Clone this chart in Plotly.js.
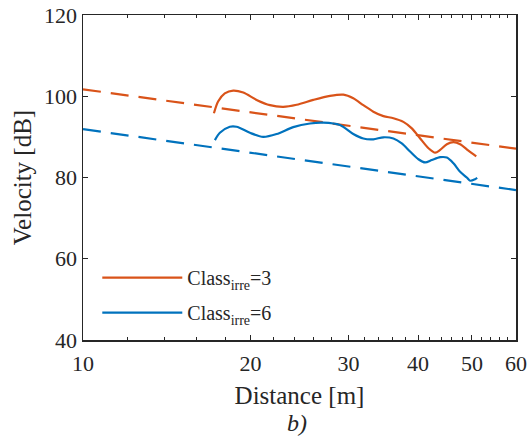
<!DOCTYPE html>
<html>
<head>
<meta charset="utf-8">
<script src="https://cdn.plot.ly/plotly-3.0.1.min.js"></script>
<style>html,body{margin:0;padding:0;background:#fff;}#chart{width:529px;height:437px;}</style>
</head>
<body>
<div id="chart"></div>
<script>
// Class_irre = 3 (measured curve)
const distC3 = [17.19, 17.49, 17.98, 18.62, 19.41, 20.51, 21.68, 22.9, 24.21, 25.93, 27.79, 29.37, 30.6, 31.9, 33.25, 34.66, 36.13, 37.65, 38.99, 40.36, 41.77, 42.95, 43.84, 45.07, 46.32, 47.62, 49.28, 50.9];
const velC3 = [95.8, 98.7, 100.7, 101.4, 100.9, 99.1, 97.8, 97.4, 97.9, 99.1, 100.1, 100.4, 99.5, 97.8, 96.2, 95.1, 94.6, 93.7, 92.1, 89.6, 87.2, 86.1, 86.8, 88.2, 88.7, 88.2, 86.6, 85.2];
// Class_irre = 6 (measured curve)
const distC6 = [17.26, 17.62, 18.36, 18.88, 19.95, 21.08, 22.28, 23.87, 25.58, 27.03, 28.96, 30.6, 31.9, 33.25, 34.66, 36.13, 37.4, 38.71, 40.07, 41.2, 42.35, 43.84, 45.07, 46.32, 47.62, 48.95, 49.63, 50.68, 51.1];
const velC6 = [89.2, 91.0, 92.5, 92.5, 91.0, 90.0, 90.7, 92.4, 93.3, 93.5, 92.9, 90.7, 89.6, 89.4, 89.9, 89.6, 88.4, 86.4, 84.5, 83.7, 84.3, 85.0, 84.9, 83.5, 81.4, 80.0, 79.2, 79.6, 79.9];
// Trend lines (dashed)
const distTrend = [10, 60];
const trendC3 = [101.7, 87.1];
const trendC6 = [91.9, 76.9];
// Axis ticks
const xTicks = [10, 20, 30, 40, 50, 60];
const xMinor = [12, 14, 16, 18, 22, 24, 26, 28, 32, 34, 36, 38, 42, 44, 46, 48, 52, 54, 56, 58];
const yTicks = [40, 60, 80, 100, 120];
const legendNames = ['Class<sub>irre</sub>=3', 'Class<sub>irre</sub>=6'];

const orange = '#D95319';
const blue = '#0072BD';
const axCol = '#262626';
const fontFam = 'Liberation Serif, Times New Roman, serif';

const traces = [
  {x: distTrend, y: trendC3, mode: 'lines', line: {color: orange, width: 2.2, dash: '18px,10px'}, showlegend: false, hoverinfo: 'skip'},
  {x: distTrend, y: trendC6, mode: 'lines', line: {color: blue, width: 2.2, dash: '18px,10px'}, showlegend: false, hoverinfo: 'skip'},
  {x: distC3, y: velC3, mode: 'lines', name: legendNames[0], legendgroup: 'a', line: {color: orange, width: 2.2, shape: 'spline', smoothing: 0.8}},
  {x: distC6, y: velC6, mode: 'lines', name: legendNames[1], legendgroup: 'b', line: {color: blue, width: 2.2, shape: 'spline', smoothing: 0.8}}
];

const layout = {
  width: 529, height: 437,
  margin: {l: 83, r: 13, t: 15, b: 97},
  paper_bgcolor: '#fff', plot_bgcolor: '#fff',
  font: {family: fontFam, color: axCol},
  showlegend: true,
  legend: {x: 0.033, y: 0.252, xanchor: 'left', yanchor: 'top', bgcolor: 'rgba(0,0,0,0)', borderwidth: 0,
           font: {family: fontFam, size: 20, color: axCol}, itemwidth: 80, tracegroupgap: 6},
  xaxis: {
    type: 'log', range: [1, Math.log10(60)],
    tickmode: 'array', tickvals: xTicks, ticktext: xTicks.map(String),
    ticks: 'inside', ticklen: 5, tickwidth: 1, tickcolor: axCol,
    minor: {tickmode: 'array', tickvals: xMinor, ticks: 'inside', ticklen: 3, tickwidth: 1, tickcolor: axCol, showgrid: false},
    showline: true, linecolor: axCol, linewidth: 1.5, mirror: 'ticks',
    showgrid: false, zeroline: false, ticklabelstandoff: 3,
    tickfont: {family: fontFam, size: 22, color: axCol},
    title: {text: 'Distance [m]', font: {family: fontFam, size: 25, color: axCol}, standoff: 11}
  },
  yaxis: {
    range: [40, 120],
    tickmode: 'array', tickvals: yTicks, ticktext: yTicks.map(String),
    ticks: 'inside', ticklen: 5, tickwidth: 1, tickcolor: axCol,
    showline: true, linecolor: axCol, linewidth: 1.5, mirror: 'ticks',
    showgrid: false, zeroline: false,
    tickfont: {family: fontFam, size: 22, color: axCol},
    title: {text: 'Velocity [dB]', font: {family: fontFam, size: 25, color: axCol}, standoff: 5}
  },
  annotations: [
    {text: '<i>b)</i>', xref: 'paper', yref: 'paper', x: 0.495, y: -0.255, xanchor: 'center', yanchor: 'middle', showarrow: false,
     font: {family: fontFam, size: 24, color: axCol}}
  ]
};

Plotly.newPlot('chart', traces, layout, {displayModeBar: false, staticPlot: true});
</script>
</body>
</html>
